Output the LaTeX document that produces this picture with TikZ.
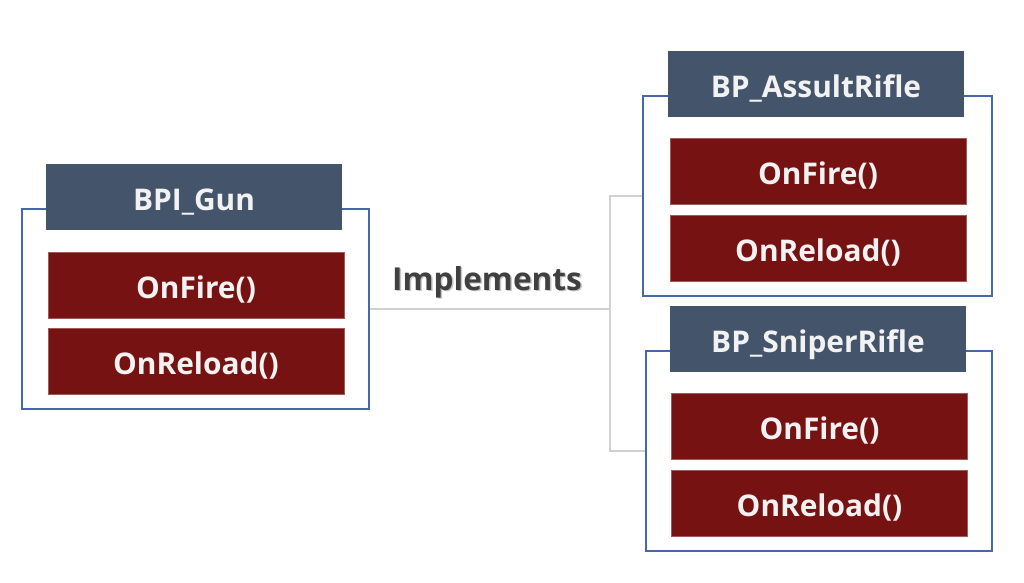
\documentclass[tikz,border=0pt]{standalone}
\usepackage{fontspec}
\setmainfont{Open Sans}
\usepackage{tikz}

\definecolor{headblue}{HTML}{44546A}
\definecolor{methred}{HTML}{771212}
\definecolor{framblue}{HTML}{4768A8}
\definecolor{linegray}{HTML}{D0D0D0}
\definecolor{txtgray}{HTML}{404040}

\tikzset{
  frame/.style={draw=framblue,line width=0.8pt,fill=white,minimum height=4cm},
  head/.style={fill=headblue,text=white!95!black,minimum width=5.92cm,minimum height=1.32cm,
    text height=15pt,text depth=0pt,font=\bfseries\fontsize{17}{20}\selectfont},
  meth/.style={fill=methred,draw=methred!70!white,line width=0.3pt,text=white!95!black,
    minimum width=5.92cm,minimum height=1.32cm,text height=15pt,text depth=0pt,
    font=\bfseries\fontsize{17}{20}\selectfont},
  conn/.style={draw=linegray,line width=1.1pt}
}

\begin{document}
\begin{tikzpicture}[x=0.02cm,y=-0.02cm]
\useasboundingbox (0,0) rectangle (1024,582);
% tegn interface
\node[frame,minimum width=6.94cm] (gunframe) at (195.5,309) {};
\node[head] (gun) at (194,197) {BPI\_Gun};
\node[meth] (gunfire) at (196,285) {OnFire()};
\node[meth] (gunreload) at (196,361) {OnReload()};
% tegn klasser
\node[frame,minimum width=6.98cm] (arframe) at (817.5,196) {};
\node[head] (ar) at (816,84) {BP\_AssultRifle};
\node[meth] (arfire) at (818,171) {OnFire()};
\node[meth] (arreload) at (818,248) {OnReload()};
\node[frame,minimum width=6.92cm] (srframe) at (819,451) {};
\node[head] (sr) at (818,339) {BP\_SniperRifle};
\node[meth] (srfire) at (819.5,426) {OnFire()};
\node[meth] (srreload) at (819.5,503) {OnReload()};
% tegn linier
\coordinate (split) at (610,309);
\draw[conn] (gunframe.east) -- (split) |- (arframe.west);
\draw[conn] (split) |- (srframe.west);
\node[text=black!22,font=\bfseries\fontsize{18}{21}\selectfont] (implshadow) at (488.5,283.5) {Implements};
\node[text=txtgray,font=\bfseries\fontsize{18}{21}\selectfont] (impl) at (487,282) {Implements};
\end{tikzpicture}
\end{document}
